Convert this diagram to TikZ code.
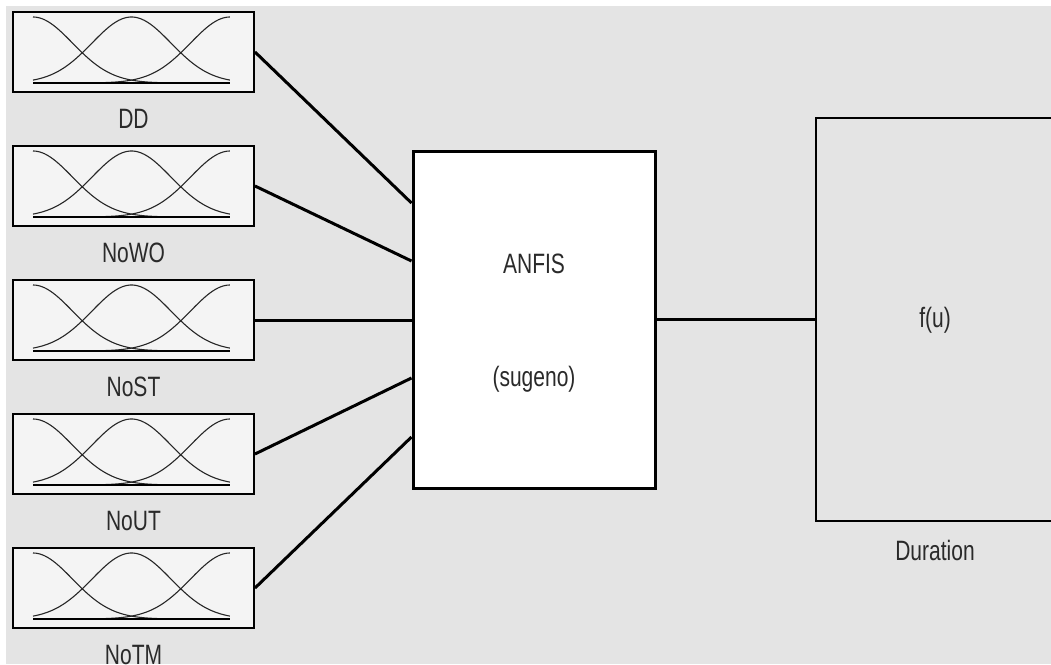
\documentclass[tikz,border=0pt]{standalone}
\usepackage{fontspec}
\newfontfamily\lblfont[FakeStretch=0.75]{Liberation Sans}
\usetikzlibrary{calc}
\definecolor{bg}{HTML}{E4E4E4}
\definecolor{mfbg}{HTML}{F4F4F4}
\definecolor{txt}{HTML}{2A2A2A}
\tikzset{
  mfbox/.style={draw=black, fill=mfbg, line width=2pt, minimum width=241pt, minimum height=80pt, inner sep=0pt},
  mfcurve/.style={draw=black!85, line width=1.1pt},
  lbl/.style={font=\lblfont\fontsize{28}{30}\selectfont, text=txt, anchor=base, inner sep=0pt},
  wire/.style={draw=black, line width=3pt},
  anfisbox/.style={draw=black, fill=white, line width=3pt, minimum width=242pt, minimum height=337pt, inner sep=0pt},
  outbox/.style={draw=black, fill=bg, line width=2pt, minimum width=250pt, minimum height=403pt, inner sep=0pt}
}
\begin{document}
\begin{tikzpicture}[x=1pt,y=-1pt]
\useasboundingbox (0,0) rectangle (1051,664);
\clip (0,0) rectangle (1051,664);
\fill[white] (0,0) rectangle (1051,664);
\fill[bg] (6,6) rectangle (1051,664);

% input membership-function blocks
\foreach \k/\name in {0/DD,1/NoWO,2/NoST,3/NoUT,4/NoTM}{
  \pgfmathsetmacro{\cy}{52+134*\k}
  \node[mfbox] (in\k) at (133.5,\cy) {};
  \node[lbl] (lab\k) at (133.5,{128+134*\k}) {\name};
  \pgfmathsetmacro{\base}{\cy+31}
  \foreach \c in {0,0.5,1}{
    \draw[mfcurve] plot[domain=0:1,samples=70,smooth]
      ({33+197*\x},{\base-66*exp(-((\x-\c)^2)/(0.08))});
  }
  \draw[black, line width=1.6pt] (33,\base) -- (230,\base);
}

% ANFIS block
\node[anfisbox] (anfis) at (534,319.5) {};
\node[lbl] (anfisA) at (534,273) {ANFIS};
\node[lbl] (anfisB) at (534,386) {(sugeno)};

% output block
\node[outbox] (dur) at (941,319.5) {};
\node[lbl] (fu) at (935,327) {f(u)};
\node[lbl] (durlab) at (935,560) {Duration};

% ports
\coordinate (p0) at (anfis.west |- 0,203);
\coordinate (p1) at (anfis.west |- 0,261);
\coordinate (p2) at (anfis.west |- 0,320);
\coordinate (p3) at (anfis.west |- 0,378);
\coordinate (p4) at (anfis.west |- 0,437);

\foreach \k in {0,...,4}{
  \draw[wire] (in\k.east) -- (p\k);
}
\draw[wire] (anfis.east) -- (dur.west);
\end{tikzpicture}
\end{document}
